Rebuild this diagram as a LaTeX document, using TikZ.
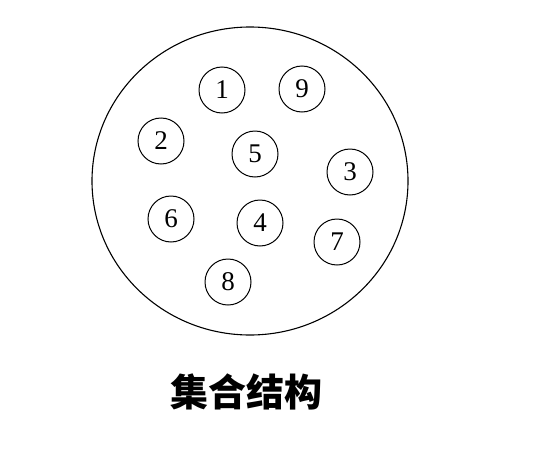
\documentclass[tikz,border=0pt]{standalone}
\usepackage{fontspec}
\setmainfont{Liberation Serif}
\newfontfamily\cjk{Noto Sans CJK SC}
\usepackage{tikz}
\usetikzlibrary{shapes}

\tikzset{
  elem/.style={draw, circle, line width=1pt, minimum size=46pt, inner sep=0pt, font=\fontsize{27}{27}\selectfont},
  setline/.style={draw, line width=1.1pt}
}

\begin{document}
\begin{tikzpicture}[x=1pt, y=-1pt]
  \useasboundingbox (0, 0) rectangle (538, 450);

  % Set boundary
  \node[setline, ellipse, minimum width=316pt, minimum height=308pt, inner sep=0pt] (set) at (250, 181) {};

  % Elements
  \node[elem] (e1) at (222, 90) {1};
  \node[elem] (e9) at (302, 89) {9};
  \node[elem] (e2) at (161, 141) {2};
  \node[elem] (e5) at (255, 154) {5};
  \node[elem] (e3) at (350, 172) {3};
  \node[elem] (e6) at (171, 219) {6};
  \node[elem] (e4) at (260, 223) {4};
  \node[elem] (e7) at (337, 242) {7};
  \node[elem] (e8) at (228, 282) {8};

  % Caption
  \node[font=\cjk\bfseries\fontsize{38}{38}\selectfont] (cap) at (246, 392) {集合结构};
\end{tikzpicture}
\end{document}
